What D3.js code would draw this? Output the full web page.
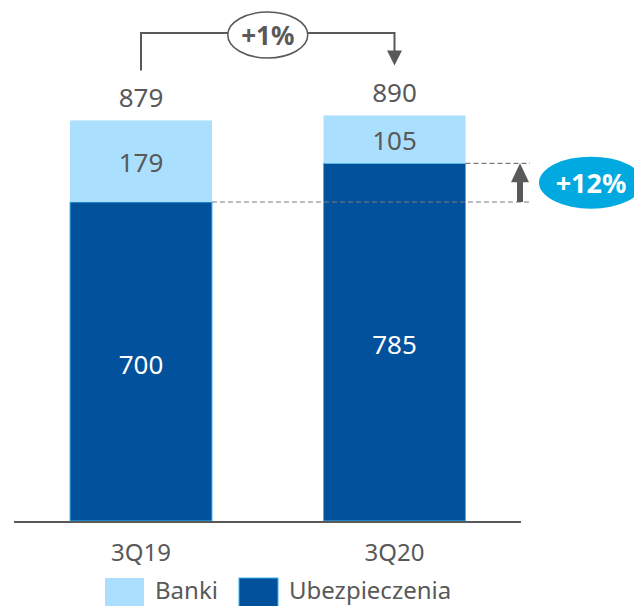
<!DOCTYPE html>
<html><head><meta charset="utf-8">
<script src="https://cdn.jsdelivr.net/npm/d3@7"></script>
<style>
html,body{margin:0;padding:0;background:#fff;}
svg{display:block;}
text{font-family:"Noto Sans","Open Sans",sans-serif;}
</style></head>
<body>
<svg id="chart" width="634" height="606"></svg>
<script>
const categories = ["3Q19", "3Q20"];
const ubezpieczenia = [700, 785];
const banki = [179, 105];
const totals = [879, 890];
const seriesNames = ["Banki", "Ubezpieczenia"];
const changeTotal = "+1%";
const changeUbezp = "+12%";

const W = 634, H = 606;
const grey = "#595959";
const light = "#AADFFD";
const dark = "#02519C";
const darkEdge = "#3BB4EE";
const cyan = "#00A9E0";

const svg = d3.select("#chart");

const x = d3.scaleBand().domain(categories).range([14.5, 521]).paddingInner(0.44).paddingOuter(0.219);
const y = d3.scaleLinear().domain([0, 1000]).range([521, 65.3]);

const rows = categories.map((c, i) => ({c, u: ubezpieczenia[i], b: banki[i], t: totals[i]}));

// bars
const g = svg.append("g");
g.selectAll("rect.u").data(rows).join("rect").attr("class", "u")
  .attr("x", d => x(d.c)).attr("width", x.bandwidth())
  .attr("y", d => y(d.u)).attr("height", d => y(0) - y(d.u))
  .attr("fill", dark).attr("stroke", darkEdge).attr("stroke-width", 1);
g.selectAll("rect.b").data(rows).join("rect").attr("class", "b")
  .attr("x", d => x(d.c)).attr("width", x.bandwidth())
  .attr("y", d => y(d.u + d.b)).attr("height", d => y(d.u) - y(d.u + d.b))
  .attr("fill", light);

// segment labels
g.selectAll("text.ul").data(rows).join("text")
  .attr("x", d => x(d.c) + x.bandwidth() / 2).attr("y", d => (y(0) + y(d.u)) / 2 + 2)
  .attr("text-anchor", "middle").attr("dominant-baseline", "central")
  .attr("font-size", 26).attr("fill", "#fff").text(d => d.u);
g.selectAll("text.bl").data(rows).join("text")
  .attr("x", d => x(d.c) + x.bandwidth() / 2).attr("y", d => (y(d.u) + y(d.u + d.b)) / 2 + 1)
  .attr("text-anchor", "middle").attr("dominant-baseline", "central")
  .attr("font-size", 26).attr("fill", grey).text(d => d.b);
g.selectAll("text.tl").data(rows).join("text")
  .attr("x", d => x(d.c) + x.bandwidth() / 2).attr("y", d => y(d.t) - 13)
  .attr("text-anchor", "middle")
  .attr("font-size", 26).attr("fill", grey).text(d => d.t);

// axis
const axis = d3.axisBottom(x).tickSize(0).tickPadding(0);
const ax = svg.append("g").attr("transform", `translate(0,${y(0) + 1})`).call(axis);
ax.select(".domain").attr("stroke", grey).attr("stroke-width", 2).attr("d", "M14,0H521");
ax.selectAll(".tick text").attr("font-size", 24).attr("fill", grey)
  .attr("dy", null).attr("y", 39).attr("font-family", null);

// legend
const leg = svg.append("g");
const legItems = [{n: seriesNames[0], fill: light, stroke: "none", x: 105}, {n: seriesNames[1], fill: dark, stroke: darkEdge, x: 239}];
legItems.forEach(it => {
  leg.append("rect").attr("x", it.x).attr("y", 578).attr("width", 39).attr("height", 32)
    .attr("fill", it.fill).attr("stroke", it.stroke).attr("stroke-width", 1);
  leg.append("text").attr("x", it.x + 50).attr("y", 599).attr("font-size", 24).attr("fill", grey).text(it.n);
});

// top bracket (+1%)
const cx0 = x(categories[0]) + x.bandwidth() / 2;
const cx1 = x(categories[1]) + x.bandwidth() / 2;
const topY = 33;
const ann = svg.append("g");
ann.append("path")
  .attr("d", `M${cx0},${y(totals[0]) - 50}V${topY}H${cx1}V${y(totals[1]) - 64}`)
  .attr("fill", "none").attr("stroke", grey).attr("stroke-width", 2);
ann.append("path")
  .attr("d", `M${cx1 - 7.5},${y(totals[1]) - 65}L${cx1 + 7.5},${y(totals[1]) - 65}L${cx1},${y(totals[1]) - 50}Z`)
  .attr("fill", grey);
const ovx = (cx0 + cx1) / 2;
ann.append("ellipse").attr("cx", ovx).attr("cy", topY + 2).attr("rx", 40).attr("ry", 23)
  .attr("fill", "#fff").attr("stroke", grey).attr("stroke-width", 1.5);
ann.append("text").attr("x", ovx).attr("y", topY + 2).attr("text-anchor", "middle")
  .attr("dominant-baseline", "central").attr("font-size", 26).attr("font-weight", "bold")
  .attr("fill", grey).text(changeTotal);

// right annotation (+12%)
const yHi = y(ubezpieczenia[1]);
const yLo = y(ubezpieczenia[0]);
const ax2 = 520;
ann.append("line").attr("x1", x(categories[1]) + x.bandwidth()).attr("x2", 530).attr("y1", yHi).attr("y2", yHi)
  .attr("stroke", "#7f7f7f").attr("stroke-width", 1.2).attr("stroke-dasharray", "5,3");
ann.append("line").attr("x1", x(categories[0]) + x.bandwidth()).attr("x2", 530).attr("y1", yLo).attr("y2", yLo)
  .attr("stroke", "#7f7f7f").attr("stroke-width", 1.2).attr("stroke-dasharray", "5,3");
ann.append("line").attr("x1", ax2).attr("x2", ax2).attr("y1", yLo).attr("y2", yHi + 15)
  .attr("stroke", grey).attr("stroke-width", 6);
ann.append("path").attr("d", `M${ax2 - 9},${yHi + 19}L${ax2 + 9},${yHi + 19}L${ax2},${yHi}Z`).attr("fill", grey);
const ecx = 591, ecy = (yHi + yLo) / 2;
ann.append("ellipse").attr("cx", ecx).attr("cy", ecy).attr("rx", 52).attr("ry", 26).attr("fill", cyan);
ann.append("text").attr("x", ecx).attr("y", ecy).attr("text-anchor", "middle")
  .attr("dominant-baseline", "central").attr("font-size", 27).attr("font-weight", "bold")
  .attr("fill", "#fff").text(changeUbezp);
</script>
</body></html>
